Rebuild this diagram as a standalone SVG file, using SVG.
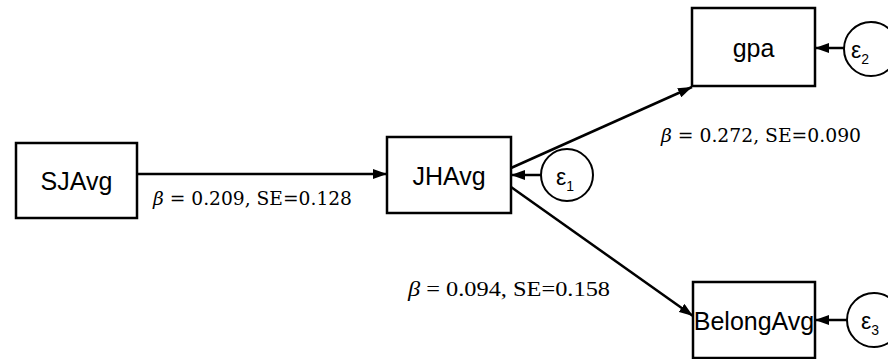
<svg xmlns="http://www.w3.org/2000/svg" width="888" height="359" viewBox="0 0 888 359">
<defs>
<marker id="ah" viewBox="0 0 14 10" refX="14" refY="5" markerWidth="14" markerHeight="10" markerUnits="userSpaceOnUse" orient="auto">
<path d="M0,0 L14,5 L0,10 Z" fill="#000"/>
</marker>
<style>
.box{fill:#fff;stroke:#000;stroke-width:2.5}
.err{fill:#fff;stroke:#000;stroke-width:2}
.lbl{font-family:"Liberation Sans",Arial,sans-serif;font-size:25px;fill:#000;text-anchor:middle;dominant-baseline:central}
.eps{font-family:"Liberation Sans",Arial,sans-serif;font-size:23px;fill:#000}
.sub{font-size:14px}
.edge{stroke:#000;stroke-width:2.5;fill:none;marker-end:url(#ah)}
.coef{font-family:"DejaVu Serif","Liberation Serif",serif;font-size:19px;fill:#000}
.coef2{font-family:"Liberation Serif","Times New Roman",serif;font-size:22px;fill:#000}
</style>
</defs>
<g id="connectors">
<line class="edge" x1="137" y1="174" x2="387" y2="174"/>
<line class="edge" x1="511" y1="168" x2="692" y2="87"/>
<line class="edge" x1="511" y1="187" x2="693" y2="316"/>
<line class="edge" x1="541" y1="175" x2="511" y2="175"/>
<line class="edge" x1="844" y1="48" x2="815" y2="48"/>
<line class="edge" x1="847" y1="320" x2="815" y2="320"/>
</g>
<g id="SJAvg">
<rect class="box" x="16" y="143" width="121" height="75"/>
<text class="lbl" x="76.5" y="181">SJAvg</text>
</g>
<g id="JHAvg">
<rect class="box" x="387" y="137" width="124" height="76"/>
<text class="lbl" x="449" y="176">JHAvg</text>
</g>
<g id="gpa">
<rect class="box" x="692" y="8" width="123" height="78"/>
<text class="lbl" x="753.5" y="48">gpa</text>
</g>
<g id="BelongAvg">
<rect class="box" x="693" y="282" width="122" height="76"/>
<text class="lbl" x="754" y="321">BelongAvg</text>
</g>
<g id="e1">
<circle class="err" cx="567" cy="175" r="26"/>
<text class="eps" x="556" y="185">ε<tspan class="sub" dy="6">1</tspan></text>
</g>
<g id="e2">
<circle class="err" cx="871" cy="49" r="27"/>
<text class="eps" x="851" y="58">ε<tspan class="sub" dy="6">2</tspan></text>
</g>
<g id="e3">
<circle class="err" cx="874" cy="320" r="27"/>
<text class="eps" x="861" y="329">ε<tspan class="sub" dy="6">3</tspan></text>
</g>
<g id="labels">
<text class="coef" x="153" y="205" textLength="199" lengthAdjust="spacingAndGlyphs"><tspan font-style="italic">β</tspan> = 0.209, SE=0.128</text>
<text class="coef" x="661" y="142" textLength="200" lengthAdjust="spacingAndGlyphs"><tspan font-style="italic">β</tspan> = 0.272, SE=0.090</text>
<text class="coef2" x="408" y="296" textLength="202" lengthAdjust="spacingAndGlyphs"><tspan font-style="italic">β</tspan> = 0.094, SE=0.158</text>
</g>
</svg>
